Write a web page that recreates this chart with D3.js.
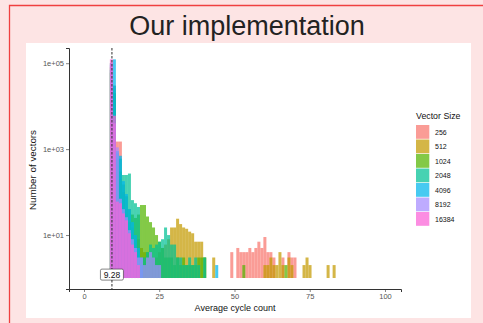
<!DOCTYPE html>
<html>
<head>
<meta charset="utf-8">
<script src="https://cdn.jsdelivr.net/npm/d3@7"></script>
<style>
  html, body { margin: 0; padding: 0; background: #fde4e4; }
  svg { display: block; }
  text { font-family: "Liberation Sans", Arial, sans-serif; }
</style>
</head>
<body>
<svg id="chart" width="483" height="323"></svg>
<script>
"use strict";

/* Chart data: histogram counts per bin, one array per vector size */
const vectorSizes = ["256", "512", "1024", "2048", "4096", "8192", "16384"];
const seriesColors = ["#F8766D", "#C49A00", "#53B400", "#00C094", "#00B6EB", "#A58AFF", "#FB61D7"];
const binStart = 8.6;
const binWidth = 1;

const counts256 = [100000, 30000, 1500, 1500, 100, 30, 10, 5, 3, 2,
  0, 0, 0, 0, 0, 0, 0, 0, 0, 0,
  0, 0, 0, 0, 0, 0, 0, 0, 0, 0,
  0, 0, 0, 0, 0, 0, 0, 0, 0, 0,
  4, 0, 5, 4, 4, 4, 5, 4, 5, 7,
  5, 9, 4, 4, 3, 0, 0, 3, 0, 4,
  3, 3, 0, 0, 0, 0, 0, 0, 0, 0,
  0, 0, 0, 0, 0, 0];
const counts512 = [80000, 20000, 500, 200, 100, 40, 20, 15, 10, 8,
  5, 4, 4, 3, 3, 3, 4, 5, 6, 8,
  15, 15, 24, 18, 15, 14, 12, 11, 7, 7,
  7, 3, 0, 0, 3, 0, 0, 0, 0, 0,
  0, 0, 0, 0, 0, 0, 0, 0, 0, 0,
  0, 2, 2, 3, 2, 2, 4, 2, 0, 3,
  2, 0, 0, 0, 2, 3, 2, 0, 0, 0,
  0, 0, 2, 0, 2, 0];
const counts1024 = [60000, 20000, 600, 300, 150, 80, 40, 30, 25, 30,
  50, 50, 27, 20, 15, 10, 7, 5, 3, 3,
  3, 2, 3, 2, 3, 2, 2, 2, 2, 3,
  3, 3, 0, 0, 0, 0, 0, 0, 0, 0,
  0, 0, 0, 0, 2, 0, 0, 0, 0, 0,
  0, 0, 0, 0, 0, 0, 0, 0, 2, 0,
  0, 0, 0, 0, 0, 0, 0, 0, 0, 0,
  0, 0, 0, 0, 0, 0];
const counts2048 = [70000, 30000, 800, 600, 250, 250, 270, 65, 55, 45,
  2, 3, 4, 6, 5, 6, 7, 8, 15, 10,
  6, 6, 3, 3, 2, 2, 3, 2, 3, 2,
  0, 3, 0, 0, 0, 0, 0, 0, 0, 0,
  0, 0, 0, 0, 0, 0, 0, 0, 0, 0,
  0, 0, 0, 0, 0, 0, 0, 0, 0, 0,
  0, 0, 0, 0, 0, 0, 0, 0, 0, 0,
  0, 0, 0, 0, 0, 0];
const counts4096 = [100000, 123000, 900, 700, 180, 90, 40, 20, 10, 5,
  3, 0, 0, 0, 0, 0, 0, 0, 0, 0,
  0, 0, 0, 0, 0, 0, 0, 0, 0, 0,
  0, 0, 0, 0, 0, 2, 0, 0, 0, 0,
  0, 0, 0, 0, 0, 0, 0, 0, 0, 0,
  0, 0, 0, 0, 0, 0, 0, 0, 0, 0,
  0, 0, 0, 0, 0, 0, 0, 0, 0, 0,
  0, 0, 0, 0, 0, 0];
const counts8192 = [90000, 4000, 1100, 70, 40, 26, 13, 8, 5, 3,
  3, 2, 3, 4, 3, 2, 2, 0, 0, 0,
  0, 0, 0, 0, 0, 0, 0, 0, 0, 0,
  0, 0, 0, 0, 0, 0, 0, 0, 0, 0,
  0, 0, 0, 0, 0, 0, 0, 0, 0, 0,
  0, 0, 0, 0, 0, 0, 0, 0, 0, 0,
  0, 0, 0, 0, 0, 0, 0, 0, 0, 0,
  0, 0, 0, 0, 0, 0];
const counts16384 = [123000, 6000, 60, 55, 32, 22, 11, 6, 4, 2,
  0, 0, 0, 0, 0, 0, 0, 0, 0, 0,
  0, 0, 0, 0, 0, 0, 0, 0, 0, 0,
  0, 0, 0, 0, 0, 0, 0, 0, 0, 0,
  0, 0, 0, 0, 0, 0, 0, 0, 0, 0,
  0, 0, 0, 0, 0, 0, 0, 0, 0, 0,
  0, 0, 0, 0, 0, 0, 0, 0, 0, 0,
  0, 0, 0, 0, 0, 0];

const allCounts = [counts256, counts512, counts1024, counts2048, counts4096, counts8192, counts16384];

const xTicks = [0, 25, 50, 75, 100];
const yTicks = [1e1, 1e3, 1e5];
const meanValue = 9.28;
const meanLabelCount = 1.2;

const svg = d3.select("#chart");

/* Slide frame and title */
function render_frame() {
  svg.append("rect").attr("x", 0).attr("y", 0).attr("width", 483).attr("height", 323).attr("fill", "#fde4e4");
  svg.append("path").attr("d", "M9.5,323 V5.5 H483")
    .attr("fill", "none").attr("stroke", "#f04040").attr("stroke-width", 1.3);
  svg.append("text").attr("x", 247).attr("y", 35)
    .attr("text-anchor", "middle").attr("font-size", 27).attr("fill", "#222")
    .text("Our implementation");
  svg.append("rect").attr("x", 26).attr("y", 43).attr("width", 445).attr("height", 275).attr("fill", "#fff");
}

/* Histogram bars, axes and mean marker */
function render_plot() {
  const x = d3.scaleLinear().domain([-4.98, 105.32]).range([69, 401]);
  const y = d3.scaleLog().domain([Math.pow(10, -0.256), Math.pow(10, 5.354)]).range([289, 48]);

  const layers = svg.append("g").attr("class", "bars");
  allCounts.forEach((counts, s) => {
    const bins = counts.map((c, i) => ({ x0: binStart + i * binWidth, x1: binStart + (i + 1) * binWidth, count: c }))
      .filter(d => d.count > 1);
    layers.append("g")
      .selectAll("rect")
      .data(bins)
      .enter().append("rect")
      .attr("x", d => x(d.x0))
      .attr("width", d => x(d.x1) - x(d.x0))
      .attr("y", d => y(d.count))
      .attr("height", d => y(1) - y(d.count))
      .attr("fill", seriesColors[s])
      .attr("fill-opacity", 0.72);
  });

  /* mean line */
  svg.append("line")
    .attr("x1", x(meanValue)).attr("x2", x(meanValue))
    .attr("y1", 48).attr("y2", 289)
    .attr("stroke", "#333").attr("stroke-opacity", 0.85)
    .attr("stroke-width", 1.2).attr("stroke-dasharray", "2.5,1.5");

  const lx = x(meanValue), ly = y(meanLabelCount);
  svg.append("rect")
    .attr("x", lx - 11.5).attr("y", ly - 5.5).attr("width", 23).attr("height", 11)
    .attr("rx", 1.5).attr("fill", "#fff").attr("stroke", "#333").attr("stroke-width", 0.6);
  svg.append("text").attr("x", lx).attr("y", ly + 3)
    .attr("text-anchor", "middle").attr("font-size", 8.5).attr("fill", "#111")
    .text(meanValue.toFixed(2));

  /* axes */
  const xAxis = svg.append("g").attr("transform", "translate(0,289)")
    .call(d3.axisBottom(x).tickValues(xTicks).tickSize(3).tickPadding(2));
  const yAxis = svg.append("g").attr("transform", "translate(69,0)")
    .call(d3.axisLeft(y).tickValues(yTicks).tickSize(3).tickPadding(2)
      .tickFormat(d => d3.format(".0e")(d).replace(/e\+(\d)$/, "e+0$1")));
  [xAxis, yAxis].forEach(a => {
    a.select(".domain").attr("stroke", "#333").attr("stroke-width", 1);
    a.selectAll(".tick line").attr("stroke", "#333").attr("stroke-width", 0.6);
    a.selectAll(".tick text").attr("fill", "#555").attr("font-size", 7.5)
      .attr("font-family", "Liberation Sans, Arial, sans-serif");
  });

  svg.append("text").attr("x", 235).attr("y", 311)
    .attr("text-anchor", "middle").attr("font-size", 9).attr("fill", "#111")
    .text("Average cycle count");
  svg.append("text").attr("transform", "translate(36,170) rotate(-90)")
    .attr("text-anchor", "middle").attr("font-size", 9.8).attr("fill", "#111")
    .text("Number of vectors");
}

/* Legend of vector sizes */
function render_legend() {
  const legend = svg.append("g").attr("transform", "translate(416,0)");
  legend.append("text").attr("x", 0).attr("y", 119)
    .attr("font-size", 8.8).attr("fill", "#111").text("Vector Size");
  const rows = legend.selectAll(".row").data(vectorSizes).enter().append("g")
    .attr("transform", (d, i) => "translate(0," + (125 + i * 14.5) + ")");
  rows.append("rect").attr("width", 13.3).attr("height", 13.8)
    .attr("fill", (d, i) => seriesColors[i]).attr("fill-opacity", 0.72);
  rows.append("text").attr("x", 19).attr("y", 9.6)
    .attr("font-size", 7).attr("fill", "#111").text(d => d);
}

render_frame();
render_plot();
render_legend();
</script>
</body>
</html>
